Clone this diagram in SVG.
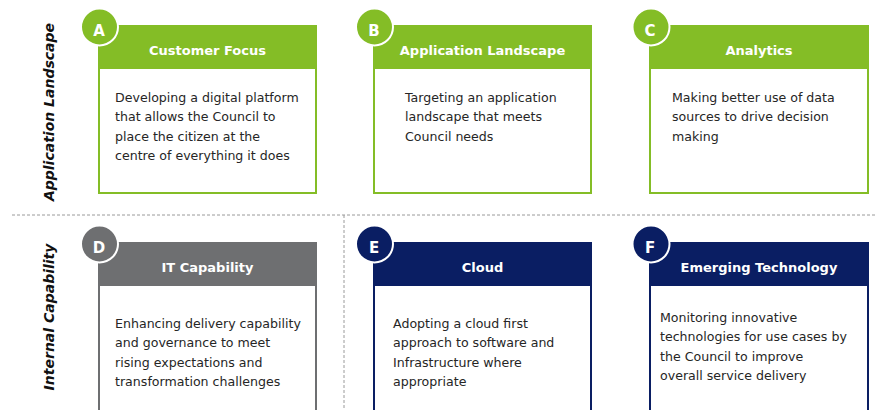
<svg xmlns="http://www.w3.org/2000/svg" width="876" height="410" viewBox="0 0 876 410">
<style>
.g{fill:#84BD26}.gs{stroke:#84BD26}
.gr{fill:#6E6F71}.grs{stroke:#6E6F71}
.n{fill:#0A1E63}.ns{stroke:#0A1E63}
.box{fill:#fff;stroke-width:2}
.circ{stroke:#fff;stroke-width:2}
.hd{font-family:"DejaVu Sans",Verdana,sans-serif;font-weight:bold;font-size:13px;fill:#fff;text-anchor:middle}
.lt{font-family:"DejaVu Sans",Verdana,sans-serif;font-weight:bold;font-size:15px;fill:#fff;text-anchor:middle}
.bd{font-family:"DejaVu Sans",Verdana,sans-serif;font-size:12.6px;fill:#262626}
.side{font-family:"DejaVu Sans",Verdana,sans-serif;font-weight:bold;font-style:italic;font-size:14px;fill:#111;text-anchor:middle}
.dash{stroke:#9a9a9a;stroke-width:1;stroke-dasharray:3 2;fill:none}
</style>
<rect width="876" height="410" fill="#fff"/>
<g id="dividers">
<line class="dash" x1="12" y1="215" x2="876" y2="215"/>
<line class="dash" x1="344" y1="215" x2="344" y2="410"/>
</g>
<text class="side" transform="translate(54,112) rotate(-90)">Application Landscape</text>
<text class="side" transform="translate(54,317) rotate(-90)">Internal Capability</text>
<g id="A">
<rect class="box gs" x="99" y="26" width="217" height="167"/>
<rect class="g" x="98" y="25" width="219" height="44"/>
<text class="hd" x="207.5" y="55">Customer Focus</text>
<circle class="g circ" cx="99.5" cy="27" r="18.5"/>
<text class="lt" x="99" y="36">A</text>
<text class="bd"><tspan x="115" y="102">Developing a digital platform</tspan><tspan x="115" y="121.3">that allows the Council to</tspan><tspan x="115" y="140.6">place the citizen at the</tspan><tspan x="115" y="160">centre of everything it does</tspan></text>
</g>
<g id="B">
<rect class="box gs" x="374" y="26" width="217" height="167"/>
<rect class="g" x="373" y="25" width="219" height="44"/>
<text class="hd" x="482.5" y="55">Application Landscape</text>
<circle class="g circ" cx="374.5" cy="27" r="18.5"/>
<text class="lt" x="374" y="36">B</text>
<text class="bd"><tspan x="405" y="102">Targeting an application</tspan><tspan x="405" y="121.3">landscape that meets</tspan><tspan x="405" y="140.6">Council needs</tspan></text>
</g>
<g id="C">
<rect class="box gs" x="650" y="26" width="218" height="167"/>
<rect class="g" x="649" y="25" width="220" height="44"/>
<text class="hd" x="759" y="55">Analytics</text>
<circle class="g circ" cx="651" cy="27" r="18.5"/>
<text class="lt" x="650" y="36">C</text>
<text class="bd"><tspan x="672" y="102">Making better use of data</tspan><tspan x="672" y="121.3">sources to drive decision</tspan><tspan x="672" y="140.6">making</tspan></text>
</g>
<g id="D">
<rect class="box grs" x="99" y="243" width="217" height="180"/>
<rect class="gr" x="98" y="242" width="219" height="44"/>
<text class="hd" x="207.5" y="272">IT Capability</text>
<circle class="gr circ" cx="99.5" cy="244" r="18.5"/>
<text class="lt" x="99" y="253">D</text>
<text class="bd"><tspan x="115" y="328">Enhancing delivery capability</tspan><tspan x="115" y="347.3">and governance to meet</tspan><tspan x="115" y="366.6">rising expectations and</tspan><tspan x="115" y="386">transformation challenges</tspan></text>
</g>
<g id="E">
<rect class="box ns" x="374" y="243" width="217" height="180"/>
<rect class="n" x="373" y="242" width="219" height="44"/>
<text class="hd" x="482.5" y="272">Cloud</text>
<circle class="n circ" cx="374.5" cy="244" r="18.5"/>
<text class="lt" x="374" y="253">E</text>
<text class="bd"><tspan x="393" y="328">Adopting a cloud first</tspan><tspan x="393" y="347.3">approach to software and</tspan><tspan x="393" y="366.6">Infrastructure where</tspan><tspan x="393" y="386">appropriate</tspan></text>
</g>
<g id="F">
<rect class="box ns" x="650" y="243" width="218" height="180"/>
<rect class="n" x="649" y="242" width="220" height="44"/>
<text class="hd" x="759" y="272">Emerging Technology</text>
<circle class="n circ" cx="651" cy="244" r="18.5"/>
<text class="lt" x="650" y="253">F</text>
<text class="bd"><tspan x="660" y="322">Monitoring innovative</tspan><tspan x="660" y="341.3">technologies for use cases by</tspan><tspan x="660" y="360.6">the Council to improve</tspan><tspan x="660" y="380">overall service delivery</tspan></text>
</g>
</svg>
